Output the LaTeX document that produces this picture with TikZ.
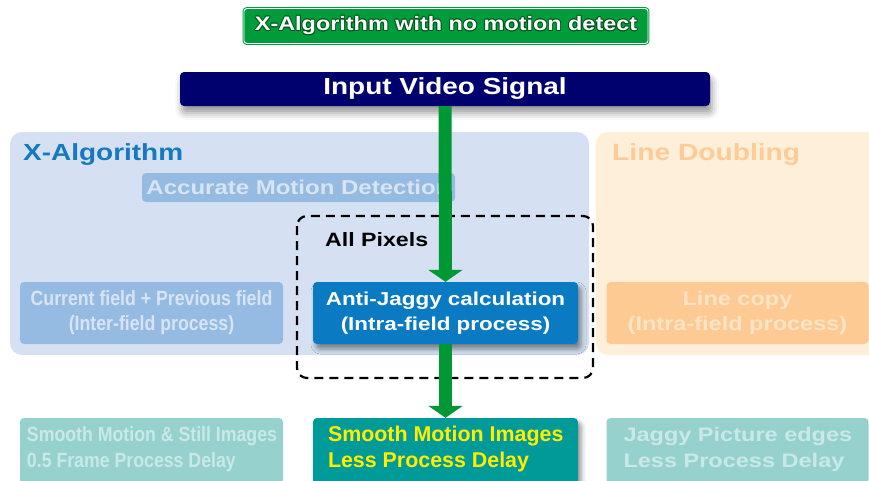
\documentclass[tikz,border=0pt]{standalone}
\usepackage{fontspec}
\usepackage[copies]{contour}
\usetikzlibrary{arrows.meta,shadows.blur}

% Helvetica-like faces: a widened one for headings, a narrow one for the side notes
\newfontfamily\fW[FakeStretch=1.2]{Liberation Sans}
\newfontfamily\fN[FakeStretch=0.86]{Liberation Sans}
\newfontfamily\fR{Liberation Sans}

\definecolor{titlegreen}{RGB}{0,155,58}
\definecolor{titledark}{RGB}{0,85,28}
\definecolor{navy}{RGB}{0,0,110}
\definecolor{flowgreen}{RGB}{0,152,52}
\definecolor{xpanel}{RGB}{213,225,242}
\definecolor{xlabel}{RGB}{20,121,192}
\definecolor{xbox}{RGB}{150,187,227}
\definecolor{xboxtext}{RGB}{216,228,244}
\definecolor{ajblue}{RGB}{10,123,195}
\definecolor{ldpanel}{RGB}{253,239,216}
\definecolor{ldlabel}{RGB}{253,203,151}
\definecolor{ldbox}{RGB}{253,202,147}
\definecolor{ldboxtext}{RGB}{254,228,198}
\definecolor{tealfade}{RGB}{150,209,205}
\definecolor{tealfadetext}{RGB}{201,233,231}
\definecolor{resteal}{RGB}{0,155,152}
\definecolor{resyellow}{RGB}{255,238,0}

\contourlength{0.8pt}

\tikzset{
  procbox/.style={rounded corners=4pt, inner sep=0pt, minimum height=62pt, minimum width=#1},
  resbox/.style={rounded corners=4pt, inner sep=0pt, minimum height=66pt, minimum width=#1},
  restext/.style={anchor=west, inner sep=0pt, align=left},
  softshadow/.style={blur shadow={shadow xshift=3pt, shadow yshift=-5pt,
      shadow blur radius=5pt, shadow opacity=45}},
  flow/.style={draw=flowgreen, line width=13pt,
      -{Triangle[width=34pt,length=12pt]}},
}

\begin{document}
\begin{tikzpicture}[x=1pt,y=-1pt]
\useasboundingbox (0,0) rectangle (869,480);
\clip (0,0) rectangle (869,480);

% title badge
\node[draw=titlegreen, double=white, double distance=0.9pt, line width=1pt,
      fill=titlegreen, rounded corners=3pt, minimum width=404pt, minimum height=35pt,
      inner sep=0pt, text=white, font=\fW\bfseries\fontsize{19.5}{22}\selectfont] (title) at (446,26)
  {\contour{titledark}{X-Algorithm with no motion detect}};

% background panels
\fill[xpanel, rounded corners=12pt] (10,132) rectangle (589,355);
\fill[ldpanel, rounded corners=12pt] (596,132) rectangle (890,355);

\node[anchor=base west, text=xlabel, inner sep=0pt,
      font=\fW\bfseries\fontsize{23.3}{28}\selectfont] (xlab) at (23,160) {X-Algorithm};
\node[anchor=base west, text=ldlabel, inner sep=0pt,
      font=\fW\bfseries\fontsize{23.5}{28}\selectfont] (ldlab) at (612,160) {Line Doubling};

\node[fill=xbox, rounded corners=4pt, minimum width=313pt, minimum height=29pt,
      inner sep=0pt, text=xboxtext, font=\fW\bfseries\fontsize{20}{24}\selectfont] (amd) at (298.5,187.5)
  {Accurate Motion Detection};

% dashed frame round the intra-field step
\draw[black, line width=2.2pt, dash pattern=on 9pt off 6pt, rounded corners=10pt]
  (297,216) rectangle (593,378);
\node[anchor=base west, inner sep=0pt, font=\fW\bfseries\fontsize{19.3}{24}\selectfont] (allpix) at (325,246)
  {All Pixels};

% process boxes
\node[procbox=263pt, fill=xbox, text=xboxtext, align=center,
      font=\fN\bfseries\fontsize{20.6}{25}\selectfont] (cur) at (151.5,313)
  {Current field + Previous field\\(Inter-field process)};
\node[procbox=265pt, fill=ajblue, text=white, align=center, softshadow,
      font=\fW\bfseries\fontsize{18.7}{25}\selectfont] (aj) at (445.5,313)
  {Anti-Jaggy calculation\\(Intra-field process)};
\node[procbox=262pt, fill=ldbox, text=ldboxtext, align=center,
      font=\fW\bfseries\fontsize{19.6}{25}\selectfont] (lc) at (737.5,313)
  {Line copy\\(Intra-field process)};

% result boxes
\node[resbox=263pt, fill=tealfade] (resl) at (151.5,451) {};
\node[resbox=265pt, fill=resteal, softshadow] (resm) at (445.5,451) {};
\node[resbox=262pt, fill=tealfade] (resr) at (737.5,451) {};

\node[restext, text=tealfadetext, font=\fN\bfseries\fontsize{20.6}{26}\selectfont]
  (resltext) at ([xshift=7pt,yshift=2pt]resl.west)
  {Smooth Motion \& Still Images\\0.5 Frame Process Delay};
\node[restext, text=resyellow, font=\fR\bfseries\fontsize{21.4}{26}\selectfont]
  (resmtext) at ([xshift=15pt,yshift=2pt]resm.west)
  {Smooth Motion Images\\Less Process Delay};
\node[restext, text=tealfadetext, font=\fW\bfseries\fontsize{19.6}{26}\selectfont]
  (resrtext) at ([xshift=17pt,yshift=2pt]resr.west)
  {Jaggy Picture edges\\Less Process Delay};

% input bar
\node[fill=navy, rounded corners=4pt, minimum width=530pt, minimum height=34pt,
      inner sep=0pt, text=white, font=\fW\bfseries\fontsize{23.3}{28}\selectfont,
      blur shadow={shadow xshift=2pt, shadow yshift=-7pt, shadow blur radius=7pt, shadow opacity=40}]
  (input) at (445,89) {Input Video Signal};

% signal flow
\draw[flow] (input.south) -- (aj.north);
\draw[flow] (aj.south) -- (resm.north);
\end{tikzpicture}
\end{document}
